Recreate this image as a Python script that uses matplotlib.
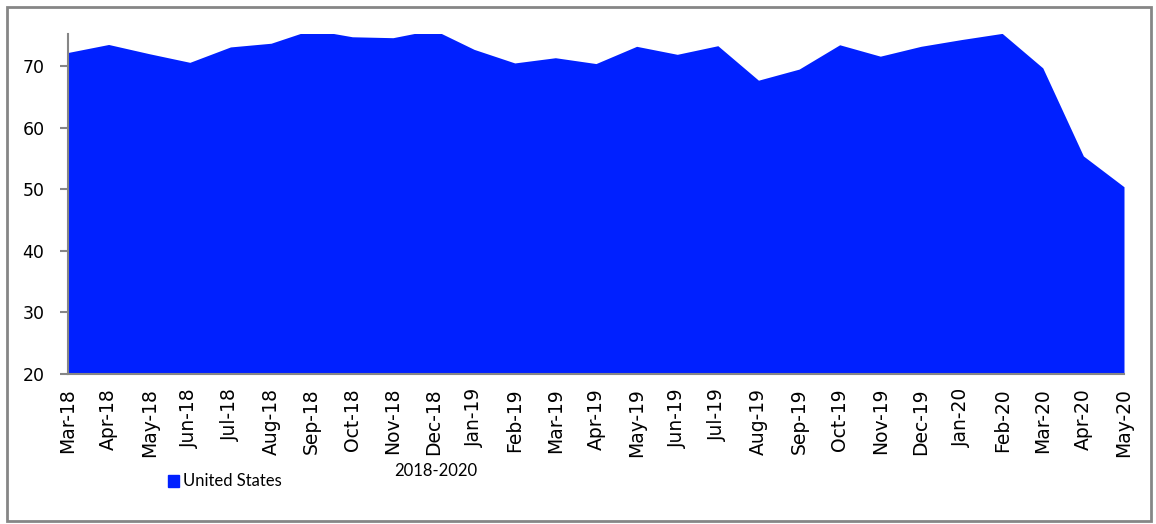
import matplotlib
matplotlib.use("Agg")
import matplotlib.pyplot as plt
from matplotlib.patches import Rectangle

plt.rcParams["font.family"] = ["DejaVu Sans"]

months = ["Mar-18", "Apr-18", "May-18", "Jun-18", "Jul-18", "Aug-18", "Sep-18",
          "Oct-18", "Nov-18", "Dec-18", "Jan-19", "Feb-19", "Mar-19", "Apr-19",
          "May-19", "Jun-19", "Jul-19", "Aug-19", "Sep-19", "Oct-19", "Nov-19",
          "Dec-19", "Jan-20", "Feb-20", "Mar-20", "Apr-20", "May-20"]
us_values = [72.2, 73.5, 72.0, 70.6, 73.1, 73.7, 75.9,
             74.75, 74.6, 75.9, 72.7, 70.5, 71.35, 70.4,
             73.2, 71.9, 73.3, 67.7, 69.5, 73.45, 71.6,
             73.2, 74.3, 75.3, 69.7, 55.4, 50.4]
yticks = [20, 30, 40, 50, 60, 70]
series_name = "United States"
xlabel_text = "2018-2020"

W, H = 1156, 524
fig = plt.figure(figsize=(W / 100, H / 100), dpi=100)
ax = fig.add_axes([68 / W, 1 - 374 / H, (1124 - 68) / W, (374 - 34) / H])

fill_color = "#0020FF"
gray = "#868686"
x = list(range(len(months)))
ax.fill_between(x, 20, us_values, color=fill_color, linewidth=0, label=series_name)
ax.set_xlim(0, len(months) - 1)
ax.set_ylim(20, 75.2)
ax.set_yticks(yticks)
ax.set_xticks(x)
ax.set_xticklabels(months, rotation=90, fontsize=13.5)
ax.tick_params(axis="x", length=0, pad=10)
ax.tick_params(axis="y", length=6, width=1.5, color=gray, pad=11, labelsize=12.5)
for s in ["top", "right"]:
    ax.spines[s].set_visible(False)
for s in ["left", "bottom"]:
    ax.spines[s].set_color(gray)
    ax.spines[s].set_linewidth(1.5)

# legend
fig.patches.append(Rectangle((168 / W, 1 - 487 / H), 11 / W, 12 / H,
                             transform=fig.transFigure, color=fill_color))
fig.text(183 / W, 1 - 481 / H, series_name, fontsize=12, family="Lato",
         va="center", ha="left")
fig.text(436 / W, 1 - 471 / H, xlabel_text, fontsize=12, family="Lato",
         va="center", ha="center")

# outer border
fig.patches.append(Rectangle((6.5 / W, 1 - 520.5 / H), (1150.5 - 6.5) / W, (520.5 - 6.5) / H,
                             transform=fig.transFigure, fill=False,
                             edgecolor=gray, linewidth=2))

fig.savefig("out.png", dpi=100)
